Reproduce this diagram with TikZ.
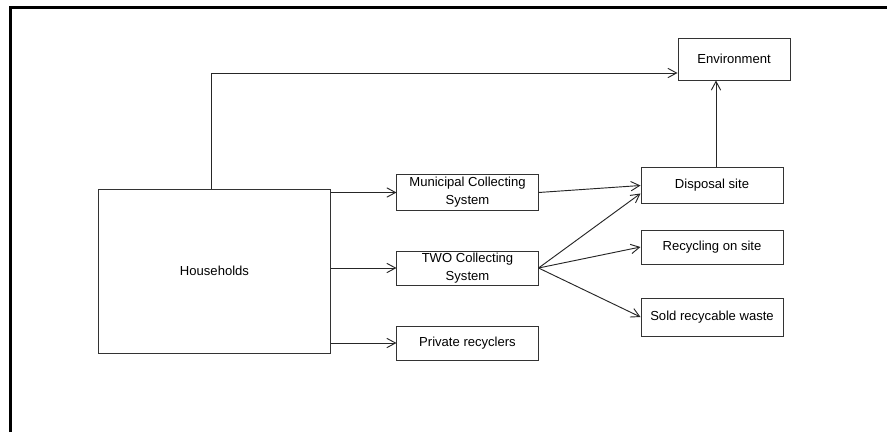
\documentclass[tikz,border=0pt]{standalone}
\usepackage{fontspec}
\setmainfont{Liberation Sans}
\usetikzlibrary{arrows.meta,calc}

\tikzset{
  box/.style={draw=black!80, line width=0.75pt, inner sep=0pt, align=center,
    font=\fontsize{9.8}{13.4}\selectfont},
  arr/.style={draw=black!85, line width=0.7pt, -{Straight Barb[length=6.5pt,width=7pt]}},
}

\begin{document}
\begin{tikzpicture}[x=0.75pt,y=-0.75pt]
\useasboundingbox (0,0) rectangle (887,432);
%cornice
\draw[line width=1.6pt] (10.5,432) -- (10.5,7.5) -- (887,7.5);

%riquadri
\node[box, minimum width=173.3pt, minimum height=123pt] (hh) at (214.5,271) {Households};
\node[box, minimum width=84pt, minimum height=31.5pt] (env) at (734,59) {Environment};
\node[box, minimum width=105.8pt, minimum height=26.3pt] (mcs) at (467.5,192.5) {Municipal Collecting\\System};
\node[box, minimum width=105.8pt, minimum height=25.5pt] (two) at (467.5,268) {TWO Collecting\\System};
\node[box, minimum width=105.8pt, minimum height=25.5pt] (priv) at (467.5,343) {Private recyclers};
\node[box, minimum width=106.5pt, minimum height=26.3pt] (dis) at (712,185.5) {Disposal site};
\node[box, minimum width=106.5pt, minimum height=25.5pt] (rec) at (712,247) {Recycling on site};
\node[box, minimum width=106.5pt, minimum height=28.5pt] (sold) at (712,317) {Sold recycable waste};

%frecce dalle famiglie
\coordinate (hhup) at ($(hh.north)+(-3,0)$);
\coordinate (envin) at ($(env.west)+(0,14)$);
\draw[arr] (hhup) |- (envin);
\draw[arr] (hh.east |- mcs.west) -- (mcs.west);
\draw[arr] (hh.east |- two.west) -- (two.west);
\draw[arr] (hh.east |- priv.west) -- (priv.west);

%frecce verso i siti
\coordinate (disin) at ($(dis.west)+(0,8)$);
\draw[arr] (mcs.east) -- (dis.west);
\draw[arr] (two.east) -- (disin);
\draw[arr] (two.east) -- (rec.west);
\draw[arr] (two.east) -- (sold.west);

%verso l'ambiente
\coordinate (disup) at ($(dis.north)+(4,0)$);
\draw[arr] (disup) -- (disup |- env.south);
\end{tikzpicture}
\end{document}
